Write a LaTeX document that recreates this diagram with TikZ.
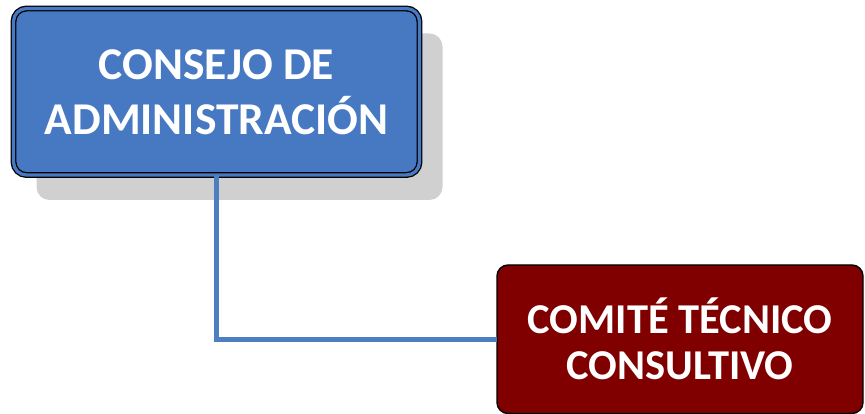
\documentclass[tikz,border=0pt]{standalone}
\usepackage{fontspec}
\setmainfont{Carlito}
\usetikzlibrary{shadows}

\definecolor{consejoblue}{RGB}{71,121,195}
\definecolor{lineablue}{RGB}{76,126,192}
\definecolor{comitered}{RGB}{128,0,0}
\definecolor{sombragray}{RGB}{208,208,208}

\begin{document}
\begin{tikzpicture}[
    x = 1pt, y = -1pt,
    caja/.style = {
      rectangle, align = center, text = white, font = \bfseries,
      inner sep = 0pt, outer sep = 0pt, anchor = center
    },
    conector/.style = {draw = lineablue, line width = 4.5pt}
  ]
  \useasboundingbox (0,0) rectangle (865,414);

  \node (consejo) [
    caja, rounded corners = 13pt, minimum width = 406pt,
    minimum height = 166.5pt, fill = consejoblue,
    draw = black, line width = 1.3pt, double = consejoblue,
    double distance = 3.3pt,
    drop shadow = {shadow xshift = 23pt, shadow yshift = -25pt,
      fill = sombragray, opacity = 1},
    font = \bfseries\fontsize{45.5}{55}\selectfont
  ] at (216.5, 91.75) {CONSEJO DE\\ADMINISTRACIÓN};

  \node (comite) [
    caja, rounded corners = 11pt, minimum width = 366pt,
    minimum height = 148.5pt, fill = comitered,
    draw = black, line width = 1.4pt,
    font = \bfseries\fontsize{42.5}{46}\selectfont
  ] at (680, 339.25) {COMITÉ TÉCNICO\\CONSULTIVO};

  \draw [conector] (consejo.south) |- (comite.west);
\end{tikzpicture}
\end{document}
